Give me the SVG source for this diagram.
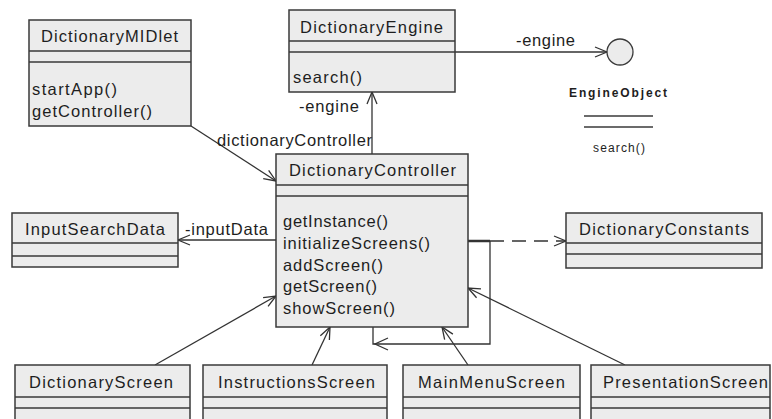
<svg xmlns="http://www.w3.org/2000/svg" width="772" height="419" viewBox="0 0 772 419">
<style>
.box{fill:#ececec;stroke:#3a3a3a;stroke-width:1.5}
.div{stroke:#3a3a3a;stroke-width:1.5}
.t{font-family:"Liberation Sans",Arial,sans-serif;font-size:16.5px;fill:#1e1e1e}
.s{font-family:"Liberation Sans",Arial,sans-serif;font-size:12px;fill:#1e1e1e}
.b{font-weight:bold}
.ln{fill:none;stroke:#333;stroke-width:1.3}
.dash{stroke-dasharray:14,8}
</style>
<defs>
<marker id="open" viewBox="0 0 14 12" refX="13" refY="6" markerWidth="14" markerHeight="12" markerUnits="userSpaceOnUse" orient="auto">
<path d="M1,1 L13,6 L1,11" fill="none" stroke="#333" stroke-width="1.3"/>
</marker>
</defs>
<rect width="772" height="419" fill="#ffffff"/>

<g id="connectors">
<line class="ln" x1="191" y1="126" x2="276" y2="181" marker-end="url(#open)"/>
<text class="t" x="217" y="146" textLength="155">dictionaryController</text>
<line class="ln" x1="372" y1="154" x2="372" y2="92" marker-end="url(#open)"/>
<text class="t" x="299" y="112" textLength="60">-engine</text>
<line class="ln" x1="455" y1="52" x2="607" y2="52" marker-end="url(#open)"/>
<text class="t" x="516" y="46" textLength="59">-engine</text>
<line class="ln" x1="276" y1="240" x2="178" y2="240" marker-end="url(#open)"/>
<text class="t" x="185" y="235" textLength="83">-inputData</text>
<line x1="468" y1="241" x2="490" y2="241" stroke="#333" stroke-width="2.5"/>
<line class="ln dash" x1="490" y1="241" x2="566" y2="241" marker-end="url(#open)"/>
<polyline class="ln" points="490,241 490,344 373,344 373,327"/>
<path class="ln" d="M388,338 L375,344 L388,350"/>
<line class="ln" x1="155" y1="365" x2="276" y2="296" marker-end="url(#open)"/>
<line class="ln" x1="312" y1="365" x2="330" y2="327" marker-end="url(#open)"/>
<line class="ln" x1="468" y1="365" x2="442" y2="327" marker-end="url(#open)"/>
<line class="ln" x1="625" y1="365" x2="468" y2="288" marker-end="url(#open)"/>
</g>

<g id="DictionaryMIDlet">
<rect class="box" x="29" y="20" width="162" height="106"/>
<line class="div" x1="29" y1="51" x2="191" y2="51"/>
<line class="div" x1="29" y1="62" x2="191" y2="62"/>
<text class="t" x="41" y="42" textLength="137">DictionaryMIDlet</text>
<text class="t" x="32" y="95" textLength="85">startApp()</text>
<text class="t" x="32" y="117" textLength="120">getController()</text>
</g>

<g id="DictionaryEngine">
<rect class="box" x="289" y="10" width="166" height="82"/>
<line class="div" x1="289" y1="41" x2="455" y2="41"/>
<line class="div" x1="289" y1="52" x2="455" y2="52"/>
<text class="t" x="300" y="33" textLength="143">DictionaryEngine</text>
<text class="t" x="293" y="83" textLength="69">search()</text>
</g>

<g id="EngineObject">
<circle cx="620" cy="52" r="13" fill="#ececec" stroke="#3a3a3a" stroke-width="1.3"/>
<text class="s b" x="569" y="97" textLength="98">EngineObject</text>
<line class="div" x1="584" y1="116" x2="653" y2="116"/>
<line class="div" x1="584" y1="127" x2="653" y2="127"/>
<text class="s" x="593" y="152" textLength="52">search()</text>
</g>

<g id="DictionaryController">
<rect class="box" x="276" y="154" width="192" height="173"/>
<line class="div" x1="276" y1="185" x2="468" y2="185"/>
<line class="div" x1="276" y1="196" x2="468" y2="196"/>
<text class="t" x="289" y="176" textLength="167">DictionaryController</text>
<text class="t" x="283" y="227" textLength="105">getInstance()</text>
<text class="t" x="283" y="249" textLength="147">initializeScreens()</text>
<text class="t" x="283" y="271" textLength="100">addScreen()</text>
<text class="t" x="283" y="292" textLength="94">getScreen()</text>
<text class="t" x="283" y="314" textLength="112">showScreen()</text>
</g>

<g id="InputSearchData">
<rect class="box" x="12" y="213" width="166" height="54"/>
<line class="div" x1="12" y1="243" x2="178" y2="243"/>
<line class="div" x1="12" y1="256" x2="178" y2="256"/>
<text class="t" x="25" y="235" textLength="140">InputSearchData</text>
</g>

<g id="DictionaryConstants">
<rect class="box" x="566" y="213" width="196" height="55"/>
<line class="div" x1="566" y1="243" x2="762" y2="243"/>
<line class="div" x1="566" y1="254" x2="762" y2="254"/>
<text class="t" x="579" y="235" textLength="170">DictionaryConstants</text>
</g>

<g id="DictionaryScreen">
<rect class="box" x="15" y="365" width="175" height="70"/>
<line class="div" x1="15" y1="397" x2="190" y2="397"/>
<line class="div" x1="15" y1="408" x2="190" y2="408"/>
<text class="t" x="29" y="388" textLength="144">DictionaryScreen</text>
</g>

<g id="InstructionsScreen">
<rect class="box" x="203" y="365" width="184" height="70"/>
<line class="div" x1="203" y1="397" x2="387" y2="397"/>
<line class="div" x1="203" y1="408" x2="387" y2="408"/>
<text class="t" x="218" y="388" textLength="157">InstructionsScreen</text>
</g>

<g id="MainMenuScreen">
<rect class="box" x="403" y="365" width="177" height="70"/>
<line class="div" x1="403" y1="397" x2="580" y2="397"/>
<line class="div" x1="403" y1="408" x2="580" y2="408"/>
<text class="t" x="418" y="388" textLength="147">MainMenuScreen</text>
</g>

<g id="PresentationScreen">
<rect class="box" x="591" y="365" width="179" height="70"/>
<line class="div" x1="591" y1="397" x2="770" y2="397"/>
<line class="div" x1="591" y1="408" x2="770" y2="408"/>
<text class="t" x="603" y="388" textLength="165">PresentationScreen</text>
</g>
</svg>
